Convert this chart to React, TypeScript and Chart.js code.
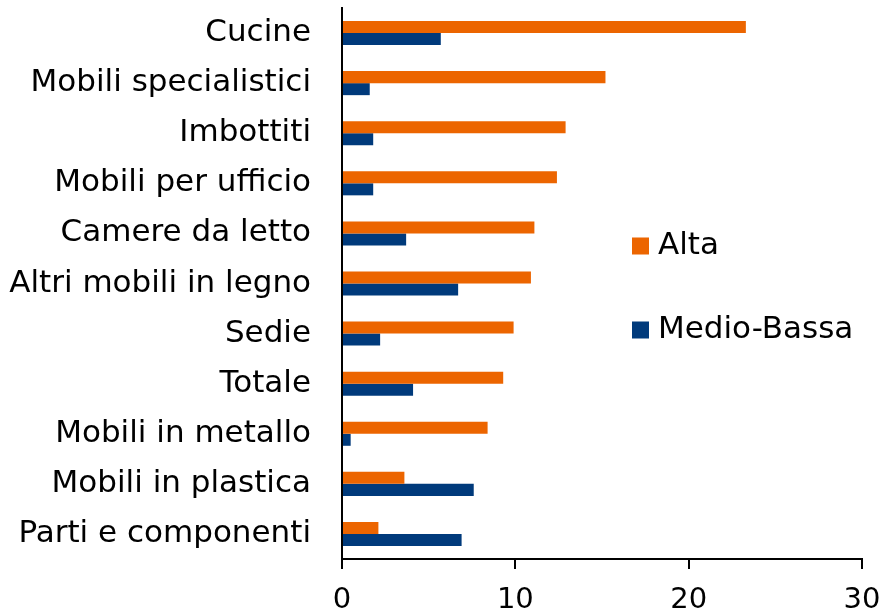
import React, { useEffect, useRef } from "react";
import { Chart, registerables } from "chart.js";

Chart.register(...registerables);

const categories = [
  "Cucine",
  "Mobili specialistici",
  "Imbottiti",
  "Mobili per ufficio",
  "Camere da letto",
  "Altri mobili in legno",
  "Sedie",
  "Totale",
  "Mobili in metallo",
  "Mobili in plastica",
  "Parti e componenti",
];
const alta = [23.3, 15.2, 12.9, 12.4, 11.1, 10.9, 9.9, 9.3, 8.4, 3.6, 2.1];
const medioBassa = [5.7, 1.6, 1.8, 1.8, 3.7, 6.7, 2.2, 4.1, 0.5, 7.6, 6.9];
const xTicks = [0, 10, 20, 30];

const ORANGE = "#EC6500";
const BLUE = "#003A7B";
const FONT = "'DejaVu Sans', sans-serif";

const legendPlugin = {
  id: "insideLegend",
  afterDraw(chart: any) {
    const ctx = chart.ctx;
    const items = chart.data.datasets.map((d: any) => ({ label: d.label, color: d.backgroundColor }));
    const x = 632;
    const ys = [246, 330];
    ctx.save();
    ctx.font = `31px ${FONT}`;
    ctx.textBaseline = "middle";
    ctx.textAlign = "left";
    items.forEach((it: any, i: number) => {
      const y = ys[i];
      ctx.fillStyle = it.color;
      ctx.fillRect(x, y - 8.5, 17, 17);
      ctx.fillStyle = "#000";
      ctx.fillText(it.label, x + 26, y);
    });
    ctx.restore();
  },
};

export default function App() {
  const ref = useRef<HTMLCanvasElement>(null);
  useEffect(() => {
    if (!ref.current) return;
    const chart = new Chart(ref.current, {
      type: "bar",
      data: {
        labels: categories,
        datasets: [
          { label: "Alta", data: alta, backgroundColor: ORANGE, categoryPercentage: 0.48, barPercentage: 1 },
          { label: "Medio-Bassa", data: medioBassa, backgroundColor: BLUE, categoryPercentage: 0.48, barPercentage: 1 },
        ],
      },
      options: {
        indexAxis: "y",
        responsive: false,
        animation: false,
        layout: { padding: { top: 8, right: 23, bottom: 0, left: 0 } },
        plugins: { legend: { display: false }, tooltip: { enabled: false } },
        scales: {
          x: {
            type: "linear",
            min: 0,
            max: 30,
            afterBuildTicks(scale: any) {
              scale.ticks = xTicks.map((v) => ({ value: v }));
            },
            afterFit(scale: any) {
              scale.height = 55;
              scale.paddingLeft = 0;
              scale.paddingRight = 0;
            },
            ticks: { color: "#000", font: { family: FONT, size: 29 }, padding: 14 },
            grid: { drawOnChartArea: false, drawTicks: true, tickLength: 10, color: "#000", lineWidth: 2 },
            border: { display: true, color: "#000", width: 2 },
          },
          y: {
            type: "category",
            afterFit(scale: any) {
              scale.width = 342;
              scale.paddingTop = 0;
              scale.paddingBottom = 0;
            },
            ticks: { color: "#000", font: { family: FONT, size: 31 }, padding: 23 },
            grid: { display: false },
            border: { display: true, color: "#000", width: 2 },
          },
        },
      },
      plugins: [legendPlugin],
    } as any);
    return () => chart.destroy();
  }, []);
  return (
    <div style={{ position: "absolute", left: 0, top: 0, width: 885, height: 614, background: "#fff" }}>
      <canvas ref={ref} width={885} height={614} style={{ width: 885, height: 614 }} />
    </div>
  );
}
